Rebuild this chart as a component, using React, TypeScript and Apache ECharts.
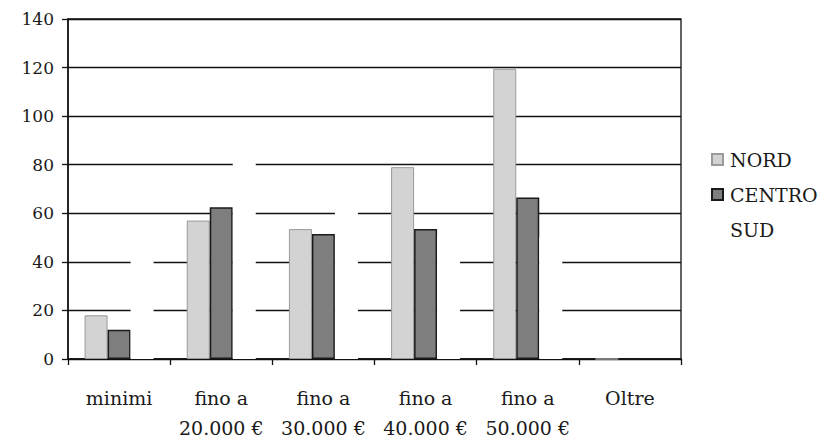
import React, { useEffect, useRef } from "react";
import * as echarts from "echarts";

const categories = ["minimi", "fino a\n20.000 €", "fino a\n30.000 €", "fino a\n40.000 €", "fino a\n50.000 €", "Oltre"];
const nord = [18, 57, 53.5, 79, 119.5, 0];
const centro = [12, 62.5, 51.5, 53.5, 66.5, 0];
const sud = [48, 88, 70, 50, 50, 0];
const yTicks = { min: 0, max: 140, interval: 20 };

const FONT = "DejaVu Serif";

export default function App() {
  const ref = useRef<HTMLDivElement>(null);
  useEffect(() => {
    if (!ref.current) return;
    const chart = echarts.init(ref.current, undefined, { renderer: "svg" });
    chart.setOption({
      animation: false,
      backgroundColor: "#ffffff",
      grid: {
        left: 68,
        right: 142,
        top: 19,
        bottom: 79,
        show: true,
        borderColor: "#111",
        borderWidth: 1.3,
      },
      legend: {
        orient: "vertical",
        left: 706,
        top: 145,
        itemWidth: 11,
        itemHeight: 11,
        itemGap: 16,
        icon: "rect",
        textStyle: { fontFamily: FONT, fontSize: 19, color: "#1a1a1a", padding: [0, 0, 0, 2] },
        data: ["NORD", "CENTRO", "SUD"],
      },
      xAxis: {
        type: "category",
        data: categories,
        axisLine: { lineStyle: { color: "#111", width: 1.5 } },
        axisTick: { show: true, alignWithLabel: false, length: 6, lineStyle: { color: "#111", width: 1.3 } },
        axisLabel: {
          fontFamily: FONT,
          fontSize: 19,
          color: "#1a1a1a",
          lineHeight: 30,
          margin: 24,
          interval: 0,
        },
      },
      yAxis: {
        type: "value",
        min: yTicks.min,
        max: yTicks.max,
        interval: yTicks.interval,
        axisLine: { show: true, lineStyle: { color: "#111", width: 1.5 } },
        axisTick: { show: true, length: 6, lineStyle: { color: "#111", width: 1.3 } },
        axisLabel: { fontFamily: FONT, fontSize: 17, color: "#1a1a1a", margin: 14 },
        splitLine: { lineStyle: { color: "#111", width: 1.3 } },
      },
      series: [
        {
          name: "NORD",
          type: "bar",
          data: nord,
          barWidth: 23,
          barGap: "0%",
          itemStyle: { color: "#d3d3d3", borderColor: "#9a9a9a", borderWidth: 1 },
        },
        {
          name: "CENTRO",
          type: "bar",
          data: centro,
          barWidth: 23,
          barGap: "0%",
          itemStyle: { color: "#7e7e7e", borderColor: "#1a1a1a", borderWidth: 1.5 },
        },
        {
          name: "SUD",
          type: "bar",
          data: sud,
          barWidth: 23,
          barGap: "0%",
          itemStyle: { color: "#ffffff", borderWidth: 0 },
        },
      ],
    });
    return () => chart.dispose();
  }, []);
  return (
    <div
      ref={ref}
      style={{ position: "absolute", left: 0, top: 0, width: 823, height: 443 }}
    />
  );
}
